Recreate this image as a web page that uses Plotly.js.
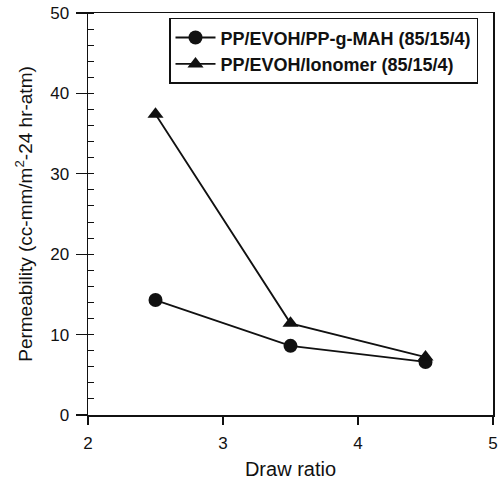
<!DOCTYPE html>
<html>
<head>
<meta charset="utf-8">
<script src="https://cdn.plot.ly/plotly-3.0.1.min.js"></script>
<style>html,body{margin:0;padding:0;background:#fff;}#chart{width:501px;height:490px;}</style>
</head>
<body>
<div id="chart"></div>
<script>
const drawRatio = [2.5, 3.5, 4.5];
const maahPerm = [14.3, 8.6, 6.6];
const ionomerPerm = [37.4, 11.4, 7.2];
const seriesNames = ["PP/EVOH/PP-g-MAH (85/15/4)", "PP/EVOH/Ionomer (85/15/4)"];
const xTicks = [2, 3, 4, 5];
const yTicks = [0, 10, 20, 30, 40, 50];

const traces = [
  {
    x: drawRatio, y: maahPerm, name: seriesNames[0], mode: "lines+markers",
    line: {color: "#111", width: 1.8},
    marker: {symbol: "circle", size: 14, color: "#111"}
  },
  {
    x: drawRatio, y: ionomerPerm, name: seriesNames[1], mode: "lines+markers",
    line: {color: "#111", width: 1.8},
    marker: {symbol: "triangle-up", size: 14, color: "#111"}
  }
];

const layout = {
  width: 501, height: 490,
  margin: {l: 88, r: 8, t: 13, b: 75},
  paper_bgcolor: "#fff", plot_bgcolor: "#fff",
  showlegend: true,
  font: {family: "Liberation Sans, Arial, sans-serif", color: "#111"},
  xaxis: {
    range: [2, 5], tickvals: xTicks, ticktext: xTicks.map(String),
    ticks: "outside", ticklen: 8, tickwidth: 1.2, tickcolor: "#111",
    showline: true, linecolor: "#111", linewidth: 1.5, mirror: true,
    showgrid: false, zeroline: false,
    tickfont: {size: 17}, ticklabelstandoff: 4,
    title: {text: "Draw ratio", font: {size: 20}, standoff: 10}
  },
  yaxis: {
    range: [0, 50], tickvals: yTicks, ticktext: yTicks.map(String),
    ticks: "outside", ticklen: 11, tickwidth: 1.2, tickcolor: "#111",
    minor: {dtick: 2, ticks: "inside", ticklen: 6, tickcolor: "#111", tickwidth: 1},
    showline: true, linecolor: "#111", linewidth: 1.5, mirror: true,
    showgrid: false, zeroline: false,
    tickfont: {size: 17}, ticklabelstandoff: 3,
    title: {text: "Permeability (cc-mm/m<sup>2</sup>-24 hr-atm)", font: {size: 19}, standoff: 12}
  },
  legend: {
    x: 0.2, y: 0.988, xanchor: "left", yanchor: "top",
    bordercolor: "#111", borderwidth: 1.5, bgcolor: "#fff",
    font: {size: 18, weight: "bold"},
    tracegroupgap: 0, itemwidth: 40
  }
};

Plotly.newPlot("chart", traces, layout, {displayModeBar: false, staticPlot: true});
</script>
</body>
</html>
